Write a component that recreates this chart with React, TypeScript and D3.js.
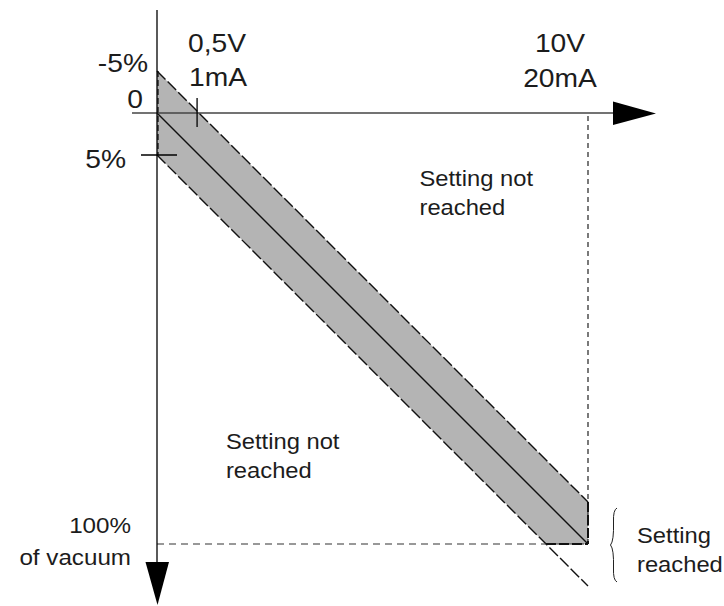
import React from "react";
import * as d3 from "d3";

// Schematic data (signal in V on x, vacuum setpoint in % on y)
const signalDomain = [0, 10];
const vacuumDomain = [0, 100];
const tolerance = 9.75; // schematic half-width of the tolerance band (drawn, not to scale)
const centerLine = [
  { v: 0, p: 0 },
  { v: 10, p: 100 },
];
const upperEdge = [
  { v: 0, p: -tolerance },
  { v: 10, p: 100 - tolerance },
];
const lowerEdge = [
  { v: 0, p: tolerance },
  { v: 10, p: 100 + tolerance },
];
const bandPolygon = [
  { v: 0, p: -tolerance },
  { v: 10, p: 100 - tolerance },
  { v: 10, p: 100 },
  { v: 10 - tolerance / 10, p: 100 },
  { v: 0, p: tolerance },
];
const yTickLabels = [
  { label: "-5%", p: -tolerance, tick: false },
  { label: "0", p: 0, tick: false },
  { label: "5%", p: tolerance, tick: true },
];
const xTickLabels = [
  { lines: ["0,5V", "1mA"], v: 0.93, anchor: "start" },
  { lines: ["10V", "20mA"], v: 10, anchor: "middle" },
];
const regionLabels = [
  { lines: ["Setting not", "reached"], v: 6.09, p: 17 },
  { lines: ["Setting not", "reached"], v: 1.6, p: 78 },
];

const W = 724;
const H = 606;
const FONT = "'Liberation Sans', Arial, Helvetica, sans-serif";
const TXT = "#1c1c1c";

export default function App() {
  const x = d3.scaleLinear().domain(signalDomain).range([157, 588]);
  const y = d3.scaleLinear().domain(vacuumDomain).range([113, 544]);
  const line = d3
    .line<{ v: number; p: number }>()
    .x((d) => x(d.v))
    .y((d) => y(d.p));

  const x0 = x(0);
  const y0 = y(0);
  const xEnd = x(10);
  const yEnd = y(100);

  const T = (
    key: string,
    tx: number,
    ty: number,
    text: string,
    anchor: string,
    size: number,
    sx: number
  ) => (
    <text
      key={key}
      transform={`translate(${tx},${ty}) scale(${sx},1)`}
      textAnchor={anchor as any}
      fontFamily={FONT}
      fontSize={size}
      fill={TXT}
    >
      {text}
    </text>
  );

  return (
    <svg
      width={W}
      height={H}
      style={{ position: "absolute", left: 0, top: 0, background: "#fff" }}
    >
      {/* tolerance band */}
      <path
        d={line(bandPolygon)! + "Z"}
        fill="#b4b4b4"
        stroke="none"
      />
      <path d={line(upperEdge)!} stroke="#111" strokeWidth={1.4} strokeDasharray="12,3" fill="none" />
      <path d={line(lowerEdge)!} stroke="#111" strokeWidth={1.4} strokeDasharray="12,3" fill="none" />
      <path d={line(centerLine)!} stroke="#111" strokeWidth={1.4} fill="none" />
      {/* left band edge dashed */}
      <line x1={x0 + 1} x2={x0 + 1} y1={y(-tolerance)} y2={y(tolerance)} stroke="#111" strokeWidth={1.3} strokeDasharray="6,3" />

      {/* dashed guides */}
      <line x1={xEnd} x2={xEnd} y1={y0 + 3} y2={yEnd} stroke="#222" strokeWidth={1.2} strokeDasharray="5,4" />
      <line x1={x0} x2={xEnd} y1={yEnd} y2={yEnd} stroke="#333" strokeWidth={1.2} strokeDasharray="7,5" />
      <line x1={x(10 - tolerance / 10)} x2={xEnd} y1={yEnd} y2={yEnd} stroke="#111" strokeWidth={2} strokeDasharray="10,3" />
      <line x1={xEnd} x2={xEnd} y1={y(100 - tolerance)} y2={yEnd} stroke="#111" strokeWidth={2} strokeDasharray="10,3" />

      {/* axes */}
      <line x1={132} x2={614} y1={y0} y2={y0} stroke="#444" strokeWidth={1.5} />
      <polygon points={`613,${y0 - 11.5} 656,${y0 + 0.5} 613,${y0 + 12}`} fill="#000" />
      <line x1={x0} x2={x0} y1={10} y2={563} stroke="#000" strokeWidth={1.3} />
      <polygon points={`${x0 - 11.5},562 ${x0 + 0.5},605 ${x0 + 12},562`} fill="#000" />

      {/* ticks */}
      <line x1={141} x2={177} y1={y(tolerance)} y2={y(tolerance)} stroke="#000" strokeWidth={1.3} />
      <line x1={x(xTickLabels[0].v)} x2={x(xTickLabels[0].v)} y1={98} y2={127} stroke="#000" strokeWidth={1.3} />

      {/* y tick labels */}
      {T("yt0", 148, y(yTickLabels[0].p) + 1, yTickLabels[0].label, "end", 25, 1.13)}
      {T("yt1", 143, y0 - 5, yTickLabels[1].label, "end", 25, 1.13)}
      {T("yt2", 126, y(yTickLabels[2].p) + 13, yTickLabels[2].label, "end", 25, 1.13)}

      {/* x tick labels */}
      {T("xt0a", 188, 52, xTickLabels[0].lines[0], "start", 25, 1.13)}
      {T("xt0b", 189, 86, xTickLabels[0].lines[1], "start", 25, 1.13)}
      {T("xt1a", x(xTickLabels[1].v) - 28, 52, xTickLabels[1].lines[0], "middle", 25, 1.13)}
      {T("xt1b", x(xTickLabels[1].v) - 28, 87, xTickLabels[1].lines[1], "middle", 25, 1.13)}

      {/* region labels */}
      {regionLabels.map((r, i) => (
        <g key={"r" + i}>
          {T("ra" + i, x(r.v) + 0, y(r.p) , r.lines[0], "start", 22, 1.08)}
          {T("rb" + i, x(r.v) + 0, y(r.p) + 29, r.lines[1], "start", 22, 1.08)}
        </g>
      ))}

      {/* 100% label */}
      {T("v100a", 131, 533, "100%", "end", 22, 1.1)}
      {T("v100b", 131, 565, "of vacuum", "end", 22, 1.1)}

      {/* setting reached brace + label */}
      <path
        d="M617,508 Q613,510 613.5,522 Q614,541 610.5,545 Q614,549 613.5,568 Q613,580 617,582"
        fill="none"
        stroke="#222"
        strokeWidth={1}
      />
      {T("sr1", 637, 543, "Setting", "start", 22, 1.08)}
      {T("sr2", 637, 572, "reached", "start", 22, 1.08)}
    </svg>
  );
}
